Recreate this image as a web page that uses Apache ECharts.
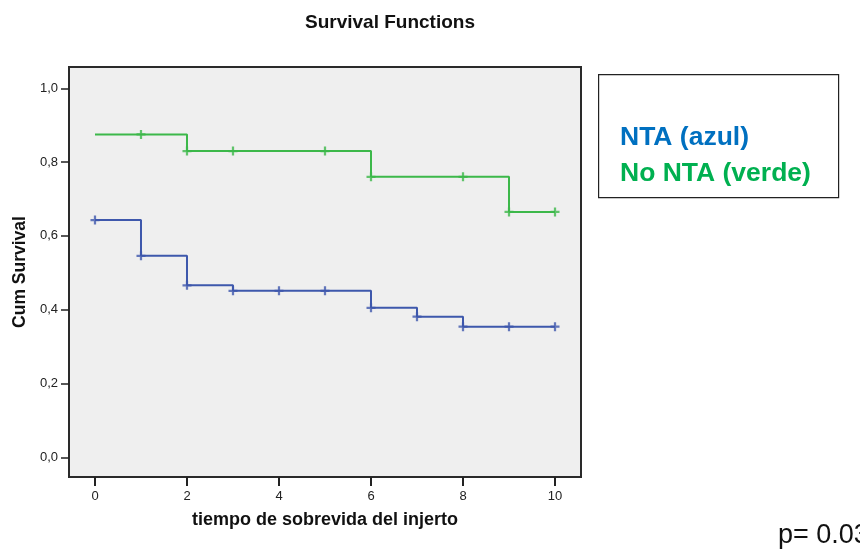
<!DOCTYPE html>
<html>
<head>
<meta charset="utf-8">
<script src="https://cdn.jsdelivr.net/npm/echarts@6/dist/echarts.min.js"></script>
<style>
  html, body { margin: 0; padding: 0; background: #ffffff; }
  #chart { width: 860px; height: 549px; }
</style>
</head>
<body>
<div id="chart"></div>
<script>
// Kaplan-Meier estimates: event times and cumulative survival after each step
const timeTicks = [0, 2, 4, 6, 8, 10];
const survTicks = [0, 0.2, 0.4, 0.6, 0.8, 1.0];

const ntaTimes = [0, 1, 2, 3, 6, 7, 8, 10];
const ntaSurv = [0.643, 0.546, 0.466, 0.451, 0.405, 0.381, 0.354, 0.354];
const ntaCensored = [0, 1, 2, 3, 4, 5, 6, 7, 8, 9, 10];

const noNtaTimes = [0, 2, 6, 9, 10];
const noNtaSurv = [0.875, 0.830, 0.760, 0.665, 0.665];
const noNtaCensored = [1, 2, 3, 5, 6, 8, 9, 10];

const legendLines = ['NTA (azul)', 'No NTA (verde)'];
const pValueText = 'p= 0.03';

const BLUE = '#3e58ac';
const GREEN = '#3cb84a';
const FONT = '"Liberation Sans", Arial, sans-serif';

// survival value of the step function at time t
function survivalAt(times, surv, t) {
  let v = surv[0];
  for (let i = 0; i < times.length; i++) {
    if (times[i] <= t) v = surv[i];
  }
  return v;
}

const pairs = (xs, ys) => xs.map((x, i) => [x, ys[i]]);
const censorPoints = (cens, times, surv) => cens.map(t => [t, survivalAt(times, surv, t)]);

const plusMark = 'path://M3,0H5V3H8V5H5V8H3V5H0V3H3Z';
const commaDecimal = v => v.toFixed(1).replace('.', ',');

const chart = echarts.init(document.getElementById('chart'), null, { renderer: 'canvas' });

chart.setOption({
  animation: false,
  backgroundColor: '#ffffff',
  textStyle: { fontFamily: FONT },
  title: {
    text: 'Survival Functions',
    left: 385,
    top: 8,
    textAlign: 'center',
    textStyle: { fontFamily: FONT, fontSize: 19, fontWeight: 'bold', color: '#111' }
  },
  grid: {
    left: 69, top: 67, width: 512, height: 410,
    show: true,
    backgroundColor: '#efefef',
    borderColor: '#2a2a2a',
    borderWidth: 2
  },
  xAxis: {
    type: 'value',
    min: -0.565, max: 10.565,
    axisLine: { show: true, onZero: false, lineStyle: { color: '#2a2a2a', width: 2 } },
    splitLine: { show: false },
    axisTick: {
      show: true, customValues: timeTicks, length: 9,
      lineStyle: { color: '#222', width: 2 }
    },
    axisLabel: {
      customValues: timeTicks, margin: 13,
      fontSize: 13, color: '#222', fontFamily: FONT
    },
    name: 'tiempo de sobrevida del injerto',
    nameLocation: 'middle',
    nameGap: 34,
    nameTextStyle: { fontFamily: FONT, fontSize: 18, fontWeight: 'bold', color: '#111' }
  },
  yAxis: {
    type: 'value',
    min: -0.0534, max: 1.0577,
    axisLine: { show: true, onZero: false, lineStyle: { color: '#2a2a2a', width: 2 } },
    splitLine: { show: false },
    axisTick: {
      show: true, customValues: survTicks, length: 8,
      lineStyle: { color: '#222', width: 1.5 }
    },
    axisLabel: {
      customValues: survTicks, margin: 11,
      fontSize: 13, color: '#222', fontFamily: FONT,
      formatter: commaDecimal
    },
    name: 'Cum Survival',
    nameLocation: 'middle',
    nameGap: 39,
    nameTextStyle: { fontFamily: FONT, fontSize: 17.5, fontWeight: 'bold', color: '#111' }
  },
  series: [
    {
      name: 'NTA', type: 'line', step: 'end', symbol: 'none',
      data: pairs(ntaTimes, ntaSurv),
      lineStyle: { color: BLUE, width: 2 }, z: 3
    },
    {
      name: 'No NTA', type: 'line', step: 'end', symbol: 'none',
      data: pairs(noNtaTimes, noNtaSurv),
      lineStyle: { color: GREEN, width: 2 }, z: 3
    },
    {
      name: 'NTA censored', type: 'scatter', symbol: plusMark, symbolSize: 9,
      data: censorPoints(ntaCensored, ntaTimes, ntaSurv),
      itemStyle: { color: BLUE }, z: 4
    },
    {
      name: 'No NTA censored', type: 'scatter', symbol: plusMark, symbolSize: 9,
      data: censorPoints(noNtaCensored, noNtaTimes, noNtaSurv),
      itemStyle: { color: GREEN }, z: 4
    }
  ],
  graphic: [
    {
      type: 'rect', left: 598, top: 74,
      shape: { width: 240, height: 123 },
      style: { fill: '#ffffff', stroke: '#222', lineWidth: 1.2 }
    },
    {
      type: 'text', left: 620, top: 124,
      style: { text: legendLines[0], fill: '#0070c0', font: 'bold 26.5px ' + FONT }
    },
    {
      type: 'text', left: 620, top: 160,
      style: { text: legendLines[1], fill: '#00b050', font: 'bold 26.5px ' + FONT }
    },
    {
      type: 'text', left: 778, top: 522,
      style: { text: pValueText, fill: '#111', font: '27px ' + FONT }
    }
  ]
});
</script>
</body>
</html>
